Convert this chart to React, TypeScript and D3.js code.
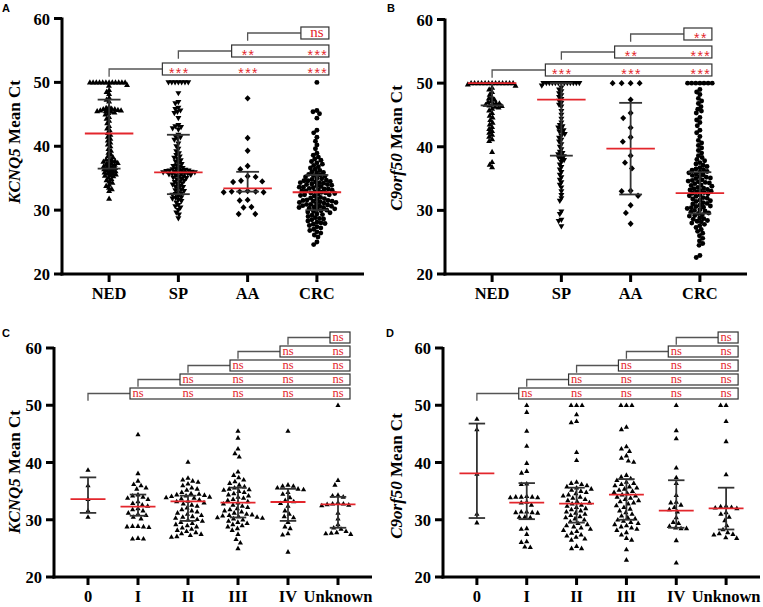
import React from 'react';
import * as d3 from 'd3';

// categories
const groupsTop = ['NED', 'SP', 'AA', 'CRC'];
const groupsStage = ['0', 'I', 'II', 'III', 'IV', 'Unknown'];
const yTicks = [20, 30, 40, 50, 60];

// ---- panel A : KCNQ5 by lesion type ----
const kcnq5NED = [
  50, 50, 50, 50, 50, 50, 50, 50, 50, 50, 50, 50, 49.6, 49.5,
  48.8, 48.5, 48.2, 47.6, 47.3, 47.0,
  46.2, 46.0, 45.9, 45.8, 45.8, 45.7, 45.7, 45.6, 45.6, 45.5, 45.5, 45.4, 45.3, 45.2, 45.0,
  44.6, 44.3, 44.0, 43.6, 43.2, 42.8, 42.5,
  42.1, 41.8, 41.5, 41.2, 40.9, 40.6, 40.3, 40.0,
  39.6, 39.3, 39.0, 38.7, 38.5, 38.3,
  38.0, 37.9, 37.8, 37.7, 37.6, 37.5, 37.4, 37.3, 37.2, 37.1, 37.0, 36.9,
  36.8, 36.7, 36.6, 36.5, 36.4, 36.3, 36.2, 36.1,
  36.0, 35.9, 35.8, 35.7, 35.6, 35.5, 35.4,
  35.3, 35.1, 34.9, 34.7, 34.5, 34.3, 34.0,
  33.8, 33.5, 33.3, 33.0, 31.8,
];
const kcnq5SP = [
  50, 50, 50, 50, 50, 50, 50,
  48.3, 46.9, 46.7, 46.0, 45.8, 45.6, 45.4, 45.2, 44.4,
  43.3, 43.1, 43.0, 42.8, 42.6, 41.8, 41.6, 41.4, 41.2, 41.0,
  40.4, 40.0, 39.6, 39.2, 38.9, 38.6, 38.4, 38.2,
  38.0, 37.8, 37.6, 37.4, 37.2, 37.0, 36.9, 36.8, 36.6, 36.5, 36.4, 36.3, 36.2, 36.1,
  36.0, 35.9, 35.8, 35.7, 35.6, 35.5, 36.3, 36.1, 35.9, 35.7, 35.6, 36.0, 36.2, 35.8,
  35.4, 35.2, 35.0, 34.8, 34.6, 34.4, 34.2, 34.0, 33.8, 33.6, 35.3, 35.1, 34.9, 34.5, 34.1, 33.7,
  33.4, 33.2, 33.0, 32.8, 32.6, 32.4, 32.2, 32.0, 31.8, 31.6, 33.1, 32.5, 31.9, 31.4,
  31.2, 30.8, 30.4, 30.0, 29.6, 29.3, 30.6, 28.7,
];
const kcnq5AA = [
  47.5, 41.3, 39.3, 36.9, 36.4, 35.3, 35.2, 34.6, 34.5, 34.4, 33.0,
  32.9, 32.9, 32.8, 32.8, 32.9, 31.6, 31.5, 30.5, 30.4, 29.4, 29.4,
];
const kcnq5CRC = [
  50.0, 45.6, 45.4, 45.1, 44.4, 42.5, 42.1, 41.4, 40.8, 40.2, 39.6,
  38.9, 38.6, 38.3, 38.0, 37.8, 37.6, 37.4, 37.2,
  37.0, 36.8, 36.6, 36.4, 36.2, 36.0, 35.9,
  35.8, 35.6, 35.4, 35.3, 35.2, 35.0, 34.9, 35.5,
  34.8, 34.7, 34.6, 34.5, 34.4, 34.3, 34.2, 34.1, 34.0, 33.9, 34.6, 34.3, 34.0, 33.8,
  33.7, 33.6, 33.5, 33.4, 33.3, 33.2, 33.1, 33.0, 32.9, 32.8, 33.6, 33.3, 33.0, 32.7,
  32.7, 32.6, 32.5, 32.4, 32.3, 32.2, 32.0, 31.9, 31.8, 32.4,
  31.7, 31.6, 31.5, 31.4, 31.3, 31.2, 31.1, 31.0, 30.9, 30.8, 31.5, 31.2, 30.9, 31.4,
  30.7, 30.6, 30.5, 30.4, 30.3, 30.2, 30.1, 30.0, 30.6, 30.4,
  29.9, 29.8, 29.6, 29.4, 29.2, 29.0, 29.7, 29.3, 28.8,
  28.7, 28.5, 28.3, 28.1, 28.0, 28.6, 27.9,
  27.8, 27.6, 27.4, 27.2, 27.0, 26.8, 26.6, 26.4, 26.1, 25.8, 25.0, 24.6,
];
const kcnq5Median = [42.0, 35.9, 33.4, 32.8];
const kcnq5Q1 = [36.5, 32.5, 32.9, 30.0];
const kcnq5Q3 = [47.3, 41.8, 36.0, 35.5];

// ---- panel B : C9orf50 by lesion type ----
const c9NED = [
  50, 50, 50, 50, 50, 50, 50, 50, 50, 50, 50, 50, 50,
  49.8, 49.6, 49.3, 49.0, 48.6, 48.2,
  47.8, 47.6, 47.4, 47.2, 47.0, 46.9, 46.8, 46.7, 46.6, 46.5, 46.4, 46.3, 46.2, 46.0,
  45.7, 45.3, 44.9, 44.6, 44.2, 43.8, 43.5, 43.1, 42.8, 42.5, 42.2, 41.9, 41.6, 41.2, 40.9,
  39.2, 37.6, 37.2, 36.8,
];
const c9SP = [
  50, 50, 50, 50, 50, 50, 50, 50, 50, 50, 50, 50, 50,
  49.6, 49.3, 49.0, 48.7, 48.4, 48.1, 47.8, 47.5, 47.2, 46.9, 46.6, 46.3,
  45.6, 45.0, 44.4, 43.8,
  43.4, 43.2, 43.0, 42.8, 42.6, 42.4, 42.2, 42.0, 41.7, 41.4, 41.1, 40.8,
  40.4, 40.0, 39.6, 39.2, 39.0, 38.8, 38.6, 38.5, 38.3, 38.1, 37.9, 37.6,
  37.2, 36.8, 36.4, 36.0, 35.6, 35.2, 34.8, 34.4, 34.0, 33.6,
  33.0, 32.4, 31.9, 31.5, 29.8, 29.4, 28.5, 28.3, 27.5,
];
const c9AA = [
  50, 50, 50, 50, 47.4, 45.3, 44.5, 43.0, 41.5, 40.8, 38.6, 37.5, 36.6,
  33.1, 33.0, 32.3, 30.8, 29.6, 27.9,
];
const c9CRC = [
  50, 50, 50, 50, 50, 50, 50,
  49.0, 48.6, 48.2, 47.6, 47.2, 46.8, 46.3, 45.9, 45.6, 45.3, 44.6, 44.2, 43.8, 43.3, 42.6, 42.2,
  41.6, 41.0, 40.6, 40.2, 39.8, 39.4, 39.0, 38.6,
  38.3, 38.0, 37.8, 37.5, 37.3, 37.1, 36.9,
  36.7, 36.5, 36.3, 36.1, 35.9, 35.7, 35.5, 35.3, 36.4, 36.0, 35.6,
  35.2, 35.0, 34.8, 34.6, 34.4, 34.2, 34.0, 33.8, 35.1, 34.7, 34.3, 33.9, 34.5,
  33.6, 33.4, 33.2, 33.0, 32.8, 32.6, 32.4, 32.2, 33.5, 33.1, 32.7, 32.3, 33.3, 32.9,
  32.0, 31.8, 31.6, 31.4, 31.2, 31.0, 30.8, 30.6, 31.9, 31.5, 31.1, 30.7,
  30.5, 30.3, 30.1, 29.9, 29.7, 29.5, 29.3, 29.1, 30.4, 30.0, 29.6, 29.2,
  28.8, 28.6, 28.4, 28.2, 28.0, 27.8, 28.7, 28.3,
  27.6, 27.3, 27.0, 26.7, 26.4, 26.0, 25.6, 25.2, 24.8, 24.5, 22.9, 22.6,
];
const c9Median = [50, 47.4, 39.7, 32.7];
const c9Q1 = [46.5, 38.6, 32.5, 29.5];
const c9Q3 = [50, 50, 46.9, 36.0];

// ---- panel C : KCNQ5 by stage ----
const kStage0 = [38.7, 36.0, 33.6, 31.6, 30.5];
const kStageI = [
  44.9, 38.1, 36.8, 36.2, 36.0, 35.6, 35.4, 34.4, 34.2, 34.0, 33.8, 33.6, 33.2, 32.9, 32.6, 32.4,
  32.0, 31.8, 31.6, 31.2, 31.0, 30.8, 30.5, 30.2, 28.9, 28.8, 28.8, 28.7, 28.9, 26.8, 26.7, 26.7,
];
const kStageII = [
  40.1, 37.3, 37.0, 36.8, 36.6, 36.3, 36.0, 35.6, 35.4, 35.2, 34.8, 34.6, 34.5, 34.4, 34.3, 34.2,
  34.1, 34.0, 33.9, 33.8, 33.7, 33.5, 33.3, 33.2, 33.0, 32.8, 32.6, 32.4, 32.1, 31.8, 31.6, 31.4,
  31.2, 31.0, 30.8, 30.6, 30.5, 30.3, 30.1, 30.0, 29.8, 29.6, 29.4, 29.2, 29.0, 28.8, 28.6, 28.4,
  28.2, 28.0, 27.8, 27.6, 27.5, 27.3, 27.1, 27.0,
];
const kStageIII = [
  45.5, 44.3, 42.4, 41.6, 41.0, 38.4, 37.8, 37.4, 37.0, 36.7, 36.4, 36.1, 35.8, 35.6, 35.4, 35.3,
  35.2, 35.0, 34.8, 34.6, 34.4, 34.2, 34.0, 33.8, 33.6, 33.4, 33.2, 33.0, 32.8, 32.6, 32.4, 32.2,
  32.0, 31.8, 31.6, 31.4, 31.2, 31.0, 30.9, 30.8, 30.7, 30.6, 30.5, 30.4, 30.3, 30.2, 30.0, 29.8,
  29.6, 29.4, 29.2, 29.0, 28.8, 28.5, 28.2, 27.5, 26.6, 26.0, 25.0,
];
const kStageIV = [
  45.5, 36.1, 35.9, 35.9, 35.6, 35.4, 35.3, 34.8, 34.5, 33.9, 33.4, 33.2, 32.9, 32.4, 31.6, 31.0,
  30.6, 30.4, 29.6, 28.8, 28.5, 27.6, 27.4, 24.4,
];
const kStageUnk = [
  50.0, 36.9, 36.1, 34.3, 34.2, 34.0, 33.0, 32.8, 32.8, 32.7, 32.6, 32.5, 31.2, 30.2, 29.2, 28.6,
  28.4, 28.0, 27.8, 27.7, 27.6, 27.5,
];
const kStageMedian = [33.6, 32.3, 33.2, 33.0, 33.1, 32.7];
const kStageQ1 = [31.2, 30.7, 29.8, 30.4, 29.8, 28.6];
const kStageQ3 = [37.4, 34.4, 34.2, 35.6, 35.4, 34.0];

// ---- panel D : C9orf50 by stage ----
const cStage0 = [47.6, 45.8, 38.0, 31.0, 29.5];
const cStageI = [
  50.0, 48.8, 45.5, 42.9, 39.9, 38.5, 38.2, 36.3, 36.2, 34.0, 34.0, 33.9, 34.1, 34.0, 33.9, 33.1,
  33.0, 32.6, 31.4, 31.3, 31.4, 31.2, 31.3, 30.5, 30.4, 30.5, 28.5, 28.4, 27.5, 26.2, 26.1, 25.3, 25.2,
];
const cStageII = [
  50, 50, 50, 48.4, 47.2, 47.0, 41.8, 40.4, 36.6, 36.4, 36.2, 36.0, 35.8, 35.6, 35.4, 35.2, 35.0,
  34.8, 34.6, 34.4, 34.2, 34.0, 33.8, 33.6, 33.4, 33.2, 33.0, 32.8, 32.6, 32.4, 32.2, 32.0, 31.8,
  31.6, 31.4, 31.2, 31.0, 30.8, 30.6, 30.4, 30.2, 30.0, 29.7, 29.4, 29.2, 29.0, 28.8, 28.6, 28.4,
  28.2, 28.0, 27.7, 27.4, 27.2, 27.0, 26.7, 26.5, 25.4, 25.0, 25.0,
];
const cStageIII = [
  50, 50, 50, 46.2, 45.8, 42.8, 42.4, 42.0, 41.2, 40.8, 40.3, 40.1, 37.8, 37.5, 37.2, 36.9, 36.6,
  36.4, 36.2, 36.0, 35.8, 35.6, 35.4, 35.2, 35.0, 34.8, 34.6, 34.4, 34.2, 34.0, 33.8, 33.6, 33.4,
  33.2, 33.0, 32.8, 32.5, 32.2, 31.9, 31.6, 31.3, 31.0, 30.7, 30.4, 30.2, 30.0, 29.8, 29.6, 29.4,
  29.2, 29.0, 28.8, 28.6, 28.4, 28.2, 27.8, 27.4, 26.8, 26.5, 24.8, 23.0,
];
const cStageIV = [
  50.0, 45.6, 44.2, 39.1, 37.4, 36.4, 34.3, 33.1, 33.0, 32.6, 32.2, 31.8, 31.4, 30.4, 29.6, 29.4,
  28.9, 28.5, 28.5, 28.6, 26.4, 22.5,
];
const cStageUnk = [
  50.0, 50.0, 47.2, 43.7, 37.9, 32.4, 32.3, 32.2, 32.1, 32.0, 31.3, 31.0, 30.5, 29.9, 29.0, 28.3,
  27.8, 27.6, 27.5, 27.4, 26.8, 26.9,
];
const cStageMedian = [38.1, 33.0, 32.8, 34.4, 31.6, 32.0];
const cStageQ1 = [30.3, 30.1, 29.5, 30.0, 28.6, 28.3];
const cStageQ3 = [46.8, 36.4, 35.6, 37.1, 36.9, 35.6];

// significance rows (bottom row first)
const sigA = [['***', '***', '***'], ['**', '***'], ['ns']];
const sigB = [['***', '***', '***'], ['**', '***'], ['**']];
const sigStage = [
  ['ns', 'ns', 'ns', 'ns', 'ns'],
  ['ns', 'ns', 'ns', 'ns'],
  ['ns', 'ns', 'ns'],
  ['ns', 'ns'],
  ['ns'],
];

const RED = '#e3262c';
const SERIF = '"Liberation Serif", "Times New Roman", serif';
const SANS = '"Liberation Sans", Arial, sans-serif';

type Shape = 'up' | 'down' | 'diamond' | 'circle';

function swarm(vals: number[], y: (v: number) => number, r: number) {
  const pts = vals.map(v => ({ v, py: y(v), dx: 0 })).sort((a, b) => b.v - a.v);
  const placed: { py: number; dx: number }[] = [];
  for (const p of pts) {
    const near = placed.filter(q => Math.abs(q.py - p.py) < r);
    const cands = [0];
    near.forEach(q => {
      const h = Math.sqrt(r * r - (q.py - p.py) ** 2);
      cands.push(q.dx + h, q.dx - h);
    });
    cands.sort((a, b) => Math.abs(a) - Math.abs(b) || a - b);
    const ok = cands.find(c => near.every(q => (q.dx - c) ** 2 + (q.py - p.py) ** 2 >= r * r - 0.01));
    p.dx = ok ?? 0;
    placed.push(p);
  }
  return pts;
}

function shapePath(s: Shape, big: boolean) {
  const w = big ? 6 : 5.2;
  const h = big ? 5.2 : 4.6;
  if (s === 'up') return `M0,${-h * 0.6}L${w / 2},${h * 0.4}L${-w / 2},${h * 0.4}Z`;
  if (s === 'down') return `M0,${h * 0.6}L${w / 2},${-h * 0.4}L${-w / 2},${-h * 0.4}Z`;
  if (s === 'diamond') return 'M0,-3.2L3,0L0,3.2L-3,0Z';
  return d3.symbol(d3.symbolCircle, 19)() as string;
}

interface PanelProps {
  letter: string;
  letterPos: [number, number];
  gene: string;
  labelPos: [number, number];
  cats: string[];
  groups: number[][];
  shapes: Shape[];
  radii: number[];
  median: number[];
  q1: number[];
  q3: number[];
  sig: string[][];
  x0: number;
  x1: number;
  yTop: number;
  yBot: number;
  big: boolean;
  row0: number;
  rowGap: number;
  boxH: number;
  boxPadL: number;
  nsSize: number;
}

function Panel(p: PanelProps) {
  const x = d3.scalePoint<string>().domain(p.cats).range([p.x0, p.x1]).padding(0.68);
  const y = d3.scaleLinear().domain([20, 60]).range([p.yBot, p.yTop]);
  const step = x.step();
  const medW = step * 0.7;
  const capW = step * 0.33;
  const last = x(p.cats[p.cats.length - 1])!;
  const tickFont = 16.5;

  return (
    <g>
      <text x={p.letterPos[0]} y={p.letterPos[1]} fontFamily={SANS} fontWeight="bold" fontSize={11}>{p.letter}</text>
      <text transform={`translate(${p.labelPos[0]},${p.labelPos[1]}) rotate(-90)`} textAnchor="middle"
        fontFamily={SERIF} fontWeight="bold" fontSize={17}>
        <tspan fontStyle="italic">{p.gene}</tspan> Mean Ct
      </text>

      {/* points */}
      {p.groups.map((vals, gi) => {
        const cx = x(p.cats[gi])!;
        const d = shapePath(p.shapes[gi], p.big);
        return swarm(vals, y, p.radii[gi]).map((pt, i) => (
          <path key={`${gi}-${i}`} d={d} transform={`translate(${cx + pt.dx},${pt.py})`} fill="#000" />
        ));
      })}

      {/* median with interquartile range */}
      {p.cats.map((c, gi) => {
        const cx = x(c)!;
        return (
          <g key={c}>
            <line x1={cx} x2={cx} y1={y(p.q1[gi])} y2={y(p.q3[gi])} stroke="#333" strokeWidth={1.8} />
            <line x1={cx - capW / 2} x2={cx + capW / 2} y1={y(p.q1[gi])} y2={y(p.q1[gi])} stroke="#333" strokeWidth={1.8} />
            <line x1={cx - capW / 2} x2={cx + capW / 2} y1={y(p.q3[gi])} y2={y(p.q3[gi])} stroke="#333" strokeWidth={1.8} />
            <line x1={cx - medW / 2} x2={cx + medW / 2} y1={y(p.median[gi])} y2={y(p.median[gi])} stroke={RED} strokeWidth={1.8} />
          </g>
        );
      })}

      {/* axes */}
      <line x1={p.x0} x2={p.x0} y1={p.yTop - 1} y2={p.yBot + 1.5} stroke="#000" strokeWidth={3} />
      <line x1={p.x0 - 1.5} x2={p.x1} y1={p.yBot} y2={p.yBot} stroke="#000" strokeWidth={3} />
      {yTicks.map(t => (
        <g key={t}>
          <line x1={p.x0 - 8} x2={p.x0} y1={y(t)} y2={y(t)} stroke="#000" strokeWidth={3} />
          <text x={p.x0 - 12} y={y(t) + 6} textAnchor="end" fontFamily={SERIF} fontWeight="bold" fontSize={tickFont}>{t}</text>
        </g>
      ))}
      {p.cats.map(c => (
        <g key={c}>
          <line x1={x(c)} x2={x(c)} y1={p.yBot} y2={p.yBot + 8} stroke="#000" strokeWidth={3} />
          <text x={x(c)} y={p.yBot + 25} textAnchor="middle" fontFamily={SERIF} fontWeight="bold" fontSize={tickFont}>{c}</text>
        </g>
      ))}

      {/* significance brackets */}
      {p.sig.map((labels, k) => {
        const fromX = x(p.cats[k])!;
        const top = p.yTop + p.row0 - k * p.rowGap;
        const mid = top + p.boxH / 2;
        const left = x(p.cats[k + 1])! - p.boxPadL;
        const right = last + 12;
        return (
          <g key={k}>
            <path d={`M${fromX},${mid + p.boxH * 0.65}V${mid}H${left}`} fill="none" stroke="#555" strokeWidth={1.3} />
            <rect x={left} y={top} width={right - left} height={p.boxH} fill="#fff" stroke="#333" strokeWidth={1.2} />
            {labels.map((s, j) => {
              const lx = x(p.cats[k + 1 + j])!;
              return s === 'ns' ? (
                <text key={j} x={lx} y={top + p.boxH - 2} textAnchor="middle" fill={RED} fontFamily={SERIF} fontSize={p.nsSize}>ns</text>
              ) : (
                <text key={j} x={lx + 1} y={mid + 8.5} textAnchor="middle" fill={RED} fontFamily={SANS} fontSize={14} letterSpacing={1.5}>{s}</text>
              );
            })}
          </g>
        );
      })}
    </g>
  );
}

export default function App() {
  return (
    <svg width={763} height={607} style={{ position: 'absolute', left: 0, top: 0, background: '#fff' }}>
      <Panel letter="A" letterPos={[2, 12]} gene="KCNQ5" labelPos={[20, 142]} cats={groupsTop}
        groups={[kcnq5NED, kcnq5SP, kcnq5AA, kcnq5CRC]} shapes={['up', 'down', 'diamond', 'circle']}
        radii={[3.2, 3.3, 8, 4.1]} median={kcnq5Median} q1={kcnq5Q1} q3={kcnq5Q3} sig={sigA}
        x0={62} x1={364} yTop={18.5} yBot={274} big row0={44.5} rowGap={18} boxH={12} boxPadL={16} nsSize={15} />
      <Panel letter="B" letterPos={[387, 12]} gene="C9orf50" labelPos={[402, 148]} cats={groupsTop}
        groups={[c9NED, c9SP, c9AA, c9CRC]} shapes={['up', 'down', 'diamond', 'circle']}
        radii={[3.5, 3.0, 9, 4.1]} median={c9Median} q1={c9Q1} q3={c9Q3} sig={sigB}
        x0={445} x1={747} yTop={19.5} yBot={274} big row0={44.5} rowGap={18} boxH={12} boxPadL={16} nsSize={15} />
      <Panel letter="C" letterPos={[2, 337]} gene="KCNQ5" labelPos={[20, 472]} cats={groupsStage}
        groups={[kStage0, kStageI, kStageII, kStageIII, kStageIV, kStageUnk]}
        shapes={['up', 'up', 'up', 'up', 'up', 'up']} radii={[5.5, 5.5, 5.5, 5.5, 5.5, 5.5]}
        median={kStageMedian} q1={kStageQ1} q3={kStageQ3} sig={sigStage}
        x0={54} x1={372} yTop={348} yBot={577} big={false} row0={40} rowGap={14} boxH={11} boxPadL={8} nsSize={12.5} />
      <Panel letter="D" letterPos={[386, 337]} gene="C9orf50" labelPos={[402, 476]} cats={groupsStage}
        groups={[cStage0, cStageI, cStageII, cStageIII, cStageIV, cStageUnk]}
        shapes={['up', 'up', 'up', 'up', 'up', 'up']} radii={[5.5, 5.5, 5.5, 5.5, 5.5, 5.5]}
        median={cStageMedian} q1={cStageQ1} q3={cStageQ3} sig={sigStage}
        x0={443} x1={760} yTop={348} yBot={577} big={false} row0={40} rowGap={14} boxH={11} boxPadL={8} nsSize={12.5} />
    </svg>
  );
}
